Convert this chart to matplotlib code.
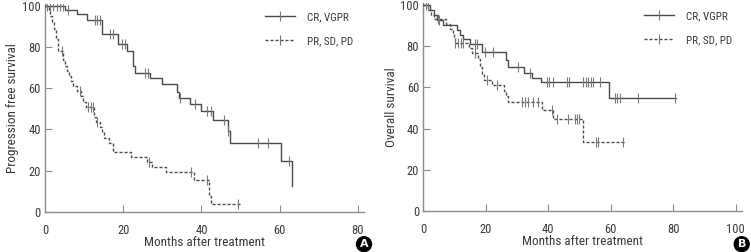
import numpy as np
import matplotlib
matplotlib.use("Agg")
import matplotlib.pyplot as plt
from matplotlib.lines import Line2D
from matplotlib import font_manager as fm

names = {f.name for f in fm.fontManager.ttflist}
FONT = None
for cand in ["Roboto Condensed", "Liberation Sans Narrow", "Open Sans Condensed",
             "Noto Sans Condensed", "DejaVu Sans Condensed"]:
    if cand in names:
        FONT = cand
        break
if FONT is None:
    FONT = "DejaVu Sans"
    plt.rcParams['font.stretch'] = 'condensed'
plt.rcParams['font.family'] = [FONT, 'DejaVu Sans']

# ---------------- data ----------------
series_labels = ["CR, VGPR", "PR, SD, PD"]

# Panel A: progression free survival
a_good_t = [0, 5.1, 8.1, 10.8, 14.5, 18.7, 21.1, 22.5, 23.0, 26.9, 30.0, 33.7, 34.3, 37.0, 40.0, 43.0, 46.7, 47.3, 60.3, 63.2]
a_good_s = [100, 98, 96, 93, 86.5, 81.5, 78.3, 70.8, 67.4, 64.8, 62, 58, 55.5, 52.4, 49, 44.6, 39, 33.3, 24.8, 12.4]
a_good_c = [0.5, 1.3, 2.1, 3.0, 3.8, 4.6, 5.8, 12.8, 13.4, 14.1, 16.6, 17.3, 19.6, 20.5, 25.6, 26.4, 34.5, 38.4, 41.5, 42.4, 45.9, 46.8, 54.6, 57.1, 62.5]
a_good_end = 63.2

a_poor_t = [0, 0.9, 1.4, 1.9, 2.4, 2.9, 3.3, 4.6, 5.1, 5.6, 6.1, 6.6, 7.1, 8.3, 9.3, 9.8, 10.4, 12.5, 13.0, 14.0, 14.5, 15.0, 16.5, 17.3, 21.9, 26.0, 27.4, 31.0, 38.0, 41.9, 42.5]
a_poor_s = [100, 97.5, 95, 92, 89, 84, 78, 73.5, 71, 68.5, 66, 63.5, 61, 58.5, 56, 53.5, 51, 46, 43.5, 41, 38.5, 36, 33.5, 28.8, 26.4, 24.1, 21.6, 19.1, 15.5, 7.7, 3.5]
a_poor_c = [4.3, 9.0, 11.1, 11.7, 12.2, 13.3, 26.6, 37.3, 41.5, 49.4]
a_poor_end = 50.5

# Panel B: overall survival
b_good_t = [0, 2.0, 3.3, 4.3, 6.4, 10.7, 11.7, 12.8, 14.9, 18.9, 26.3, 27.2, 32.3, 34.7, 37.5, 59.5]
b_good_s = [100, 97.6, 95.2, 92.8, 90.4, 88.0, 85.7, 83.4, 81.0, 77.2, 73.4, 69.7, 67.2, 64.8, 62.6, 54.8]
b_good_c = [1.0, 1.6, 5.0, 16.5, 17.1, 19.8, 22.4, 30.4, 34.1, 39.5, 40.3, 41.4, 45.9, 46.7, 51.2, 52.1, 52.8, 53.6, 54.4, 56.5, 61.3, 62.1, 62.9, 68.8, 80.5]
b_good_end = 80.8

b_poor_t = [0, 1.5, 2.6, 3.4, 7.3, 8.4, 9.4, 9.8, 10.0, 14.7, 15.6, 17.6, 18.1, 18.7, 19.3, 21.9, 25.9, 26.3, 27.0, 37.9, 41.6, 51.2]
b_poor_s = [100, 97.7, 95.4, 93.1, 90.8, 88.4, 86.1, 83.8, 81.5, 79.0, 76.5, 73.6, 70.0, 66.7, 63.6, 61.0, 58.5, 55.9, 52.8, 49.0, 44.8, 33.6]
b_poor_c = [4.8, 10.1, 11.2, 12.0, 12.8, 16.5, 20.5, 23.5, 31.5, 32.5, 33.6, 35.0, 36.8, 41.1, 42.7, 46.4, 48.5, 49.3, 49.9, 55.3, 56.0, 64.0]
b_poor_end = 64.5

y_label_a = "Progression free survival"
y_label_b = "Overall survival"
x_label = "Months after treatment"
panel_letters = ["A", "B"]
a_xticks = [0, 20, 40, 60, 80]
b_xticks = [0, 20, 40, 60, 80, 100]
yticks = [0, 20, 40, 60, 80, 100]

# ---------------- style ----------------
LINE_C = "#4a4a4a"
CENS_C = "#7a7a7a"
AX_C = "#8c8c8c"
TXT_C = "#3a3a3a"
DASH = (0, (2.2, 1.4))

fig = plt.figure(figsize=(7.51, 2.52), dpi=100)
axA = fig.add_axes([0.0599, 0.160, 0.4243, 0.8245])
axB = fig.add_axes([0.5637, 0.1627, 0.4244, 0.8254])


def km(ax, t, s, c, end, ls):
    tt = list(t) + [end]
    ss = list(s) + [s[-1]]
    ax.step(tt, ss, where='post', color=LINE_C, lw=1.0, linestyle=ls, zorder=3)
    ta = np.asarray(t)
    sa = np.asarray(s)
    idx = np.searchsorted(ta, c, side='right') - 1
    ax.plot(c, sa[idx], linestyle='none', marker='|', markersize=7,
            markeredgewidth=0.8, color=CENS_C, zorder=4)


def style(ax, xmax, xticks, ylab):
    ax.set_xlim(0, xmax)
    ax.set_ylim(0, 101)
    ax.set_xticks(xticks)
    ax.set_yticks(yticks)
    for sp in ['top', 'right']:
        ax.spines[sp].set_visible(False)
    for sp in ['left', 'bottom']:
        ax.spines[sp].set_color(AX_C)
        ax.spines[sp].set_linewidth(1.0)
    ax.tick_params(axis='x', direction='in', length=5, width=0.8, color=AX_C,
                   labelsize=9, labelcolor=TXT_C, pad=9)
    ax.tick_params(axis='y', direction='in', length=5, width=0.8, color=AX_C,
                   labelsize=9, labelcolor=TXT_C, pad=3)
    ax.set_xlabel(x_label, fontsize=9.5, color=TXT_C, labelpad=-1)
    ax.set_ylabel(ylab, fontsize=9.5, color=TXT_C, labelpad=2)
    handles = [Line2D([], [], color=LINE_C, lw=1.0, marker='|', markersize=7,
                      markeredgecolor=CENS_C, markeredgewidth=0.8),
               Line2D([], [], color=LINE_C, lw=1.0, linestyle=DASH, marker='|',
                      markersize=7, markeredgecolor=CENS_C, markeredgewidth=0.8)]
    leg = ax.legend(handles, series_labels, loc='upper right', frameon=False,
                    fontsize=8, handlelength=2.7, handletextpad=1.1,
                    labelspacing=1.3, bbox_to_anchor=(1.0, 1.01),
                    labelcolor=TXT_C, markerfirst=True)
    return leg


km(axA, a_good_t, a_good_s, a_good_c, a_good_end, '-')
km(axA, a_poor_t, a_poor_s, a_poor_c, a_poor_end, DASH)
style(axA, 81.5, a_xticks, y_label_a)

km(axB, b_good_t, b_good_s, b_good_c, b_good_end, '-')
km(axB, b_poor_t, b_poor_s, b_poor_c, b_poor_end, DASH)
style(axB, 102, b_xticks, y_label_b)

for letter, xf in zip(panel_letters, [0.4847, 0.9876]):
    fig.text(xf, 0.031, letter, ha='center', va='center', color='white',
             fontsize=8, fontweight='bold', family='DejaVu Sans',
             bbox=dict(boxstyle='circle,pad=0.22', fc='black', ec='black'))

fig.savefig("out.png", dpi=100)
